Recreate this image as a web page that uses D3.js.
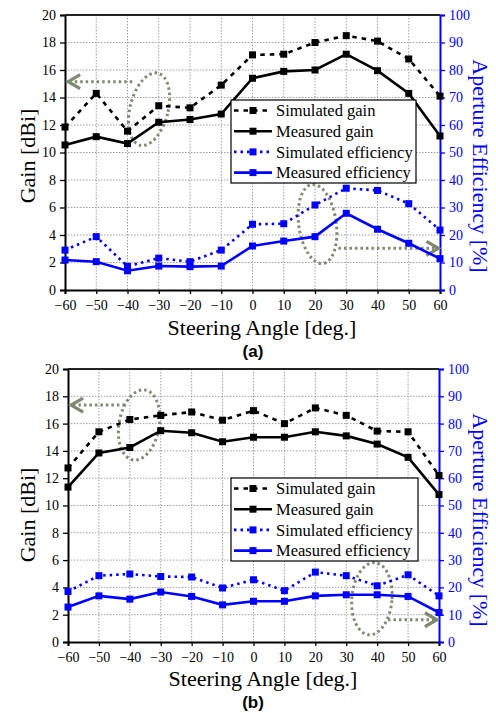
<!DOCTYPE html>
<html>
<head>
<meta charset="utf-8">
<script src="https://cdn.jsdelivr.net/npm/d3@7"></script>
<style>
  html, body { margin: 0; padding: 0; background: #fff; }
  svg { display: block; }
</style>
</head>
<body>
<script>
// Steering angles (deg.)
const angles = [-60, -50, -40, -30, -20, -10, 0, 10, 20, 30, 40, 50, 60];

// Panel (a): gain in dBi, efficiency in %
const simGainA = [11.85, 14.3, 11.55, 13.4, 13.25, 14.9, 17.1, 17.15, 18.0, 18.5, 18.1, 16.8, 14.1];
const measGainA = [10.55, 11.15, 10.65, 12.2, 12.4, 12.8, 15.4, 15.9, 16.0, 17.15, 15.95, 14.3, 11.2];
const simEffA = [14.5, 19.4, 8.6, 11.6, 10.3, 14.5, 23.9, 24.1, 30.9, 37.0, 36.2, 31.4, 21.8];
const measEffA = [10.9, 10.3, 7.0, 8.7, 8.5, 8.7, 16.0, 17.8, 19.4, 27.9, 22.1, 17.0, 11.4];

// Panel (b)
const simGainB = [12.75, 15.4, 16.3, 16.6, 16.85, 16.25, 16.95, 16.0, 17.15, 16.6, 15.45, 15.4, 12.2];
const measGainB = [11.35, 13.85, 14.25, 15.48, 15.33, 14.67, 15.0, 15.0, 15.4, 15.1, 14.5, 13.53, 10.8];
const simEffB = [18.5, 24.3, 24.9, 24.0, 23.8, 19.8, 22.8, 18.8, 25.6, 24.3, 20.6, 24.6, 16.9];
const measEffB = [12.8, 16.9, 15.7, 18.3, 16.7, 13.6, 14.9, 14.9, 16.9, 17.3, 17.3, 16.7, 10.8];

// Axis ticks
const angleTicks = [-60, -50, -40, -30, -20, -10, 0, 10, 20, 30, 40, 50, 60];
const gainTicks = [0, 2, 4, 6, 8, 10, 12, 14, 16, 18, 20];
const effTicks = [0, 10, 20, 30, 40, 50, 60, 70, 80, 90, 100];

// Legend entries
const legendLabels = ["Simulated gain", "Measured gain", "Simulated efficiency", "Measured efficiency"];
const panelTags = ["(a)", "(b)"];

const BLUE = "#0000ff";
const NOTE = "#7e8a6f";
const SERIF = "'Liberation Serif', 'Times New Roman', serif";

const svg = d3.select("body").append("svg")
  .attr("width", 496).attr("height", 713);

const seriesStyles = [
  { color: "#000", dash: "4.5,5" },
  { color: "#000", dash: null },
  { color: BLUE, dash: "2.5,4" },
  { color: BLUE, dash: null }
];

function drawPanel(cfg) {
  const { left, right, top, bottom } = cfg.box;
  const x = d3.scaleLinear().domain([-60, 60]).range([left, right]);
  const yG = d3.scaleLinear().domain([0, 20]).range([bottom, top]);
  const yE = d3.scaleLinear().domain([0, 100]).range([bottom, top]);
  const g = svg.append("g");

  // grid
  const grid = g.append("g").attr("stroke", "#a0a0a0").attr("stroke-width", 1)
    .attr("stroke-dasharray", "1.5,1.5");
  grid.selectAll("line.v").data(angleTicks.slice(1, -1)).join("line")
    .attr("x1", d => x(d)).attr("x2", d => x(d)).attr("y1", top).attr("y2", bottom);
  grid.selectAll("line.h").data(gainTicks.slice(1, -1)).join("line")
    .attr("x1", left).attr("x2", right).attr("y1", d => yG(d)).attr("y2", d => yG(d));

  // axes
  const axL = g.append("g").attr("transform", `translate(${left},0)`)
    .call(d3.axisLeft(yG).tickValues(gainTicks).tickSize(5).tickPadding(4));
  const axB = g.append("g").attr("transform", `translate(0,${bottom})`)
    .call(d3.axisBottom(x).tickValues(angleTicks).tickFormat(d3.format("d")).tickSize(4).tickPadding(6));
  const axR = g.append("g").attr("transform", `translate(${right},0)`)
    .call(d3.axisRight(yE).tickValues(effTicks).tickSize(5).tickPadding(4));
  [axL, axB, axR].forEach(a => {
    a.attr("font-family", null);
    a.selectAll("text").style("font-family", SERIF).attr("font-size", 14);
    a.select(".domain").attr("stroke-width", 2);
    a.selectAll(".tick line").attr("stroke-width", 1.3);
  });
  axL.selectAll("text").attr("fill", "#000");
  axB.selectAll("text").attr("fill", "#000");
  axR.selectAll("text").attr("fill", BLUE);
  axR.select(".domain").attr("stroke", BLUE);
  axR.selectAll(".tick line").attr("stroke", BLUE);
  g.append("line").attr("x1", left).attr("x2", right).attr("y1", top).attr("y2", top)
    .attr("stroke", "#222").attr("stroke-width", 2);

  // annotations (ellipses + arrows), defined in data units
  const ann = g.append("g").attr("fill", "none").attr("stroke", NOTE);
  cfg.notes.forEach(n => {
    const cx = x(n.cx), cy = yG(n.cy);
    const rx = x(n.cx + n.rx) - cx, ry = cy - yG(n.cy + n.ry);
    ann.append("ellipse").attr("cx", cx).attr("cy", cy).attr("rx", rx).attr("ry", ry)
      .attr("transform", `rotate(${n.rot},${cx},${cy})`)
      .attr("stroke-width", 3).attr("stroke-dasharray", "2.5,3");
    const ay = yG(n.ay), x0 = x(n.ax0), x1 = x(n.ax1);
    ann.append("line").attr("x1", x0).attr("x2", x1).attr("y1", ay).attr("y2", ay)
      .attr("stroke-width", 3).attr("stroke-dasharray", "2.5,3");
    const dir = x1 < x0 ? 1 : -1;
    ann.append("path")
      .attr("d", `M${x1 + dir * 12},${ay - 7}L${x1},${ay}L${x1 + dir * 12},${ay + 7}`)
      .attr("stroke-width", 3.2).attr("stroke-linejoin", "miter");
  });

  // series
  const series = [
    { vals: cfg.simGain, y: yG },
    { vals: cfg.measGain, y: yG },
    { vals: cfg.simEff, y: yE },
    { vals: cfg.measEff, y: yE }
  ];
  series.forEach((s, i) => {
    const st = seriesStyles[i];
    const pts = angles.map((a, j) => [x(a), s.y(s.vals[j])]);
    g.append("path").attr("d", d3.line()(pts)).attr("fill", "none")
      .attr("stroke", st.color).attr("stroke-width", 2.6)
      .attr("stroke-dasharray", st.dash);
    g.append("g").selectAll("rect").data(pts).join("rect")
      .attr("x", d => d[0] - 3.5).attr("y", d => d[1] - 3.5)
      .attr("width", 7).attr("height", 7).attr("fill", st.color);
  });

  // legend
  const L = cfg.legend;
  const lg = g.append("g").attr("transform", `translate(${L.x},${L.y})`);
  lg.append("rect").attr("width", L.w).attr("height", L.h)
    .attr("fill", "#fff").attr("stroke", "#000").attr("stroke-width", 1.2);
  legendLabels.forEach((lab, i) => {
    const st = seriesStyles[i];
    const ry = 10.5 + i * 20.7;
    lg.append("line").attr("x1", 3).attr("x2", 41).attr("y1", ry).attr("y2", ry)
      .attr("stroke", st.color).attr("stroke-width", 2.6).attr("stroke-dasharray", st.dash);
    lg.append("rect").attr("x", 18.5).attr("y", ry - 3.5).attr("width", 7).attr("height", 7)
      .attr("fill", st.color);
    lg.append("text").attr("x", 45).attr("y", ry).attr("dy", "0.35em")
      .style("font-family", SERIF).attr("font-size", 16.5).attr("fill", "#000").text(lab);
  });

  // titles
  g.append("text").attr("transform", `translate(${cfg.leftTitle[0]},${cfg.leftTitle[1]}) rotate(-90)`)
    .attr("text-anchor", "middle").attr("dy", "0.35em")
    .style("font-family", SERIF).attr("font-size", 22).attr("fill", "#000").text("Gain [dBi]");
  g.append("text").attr("transform", `translate(${cfg.rightTitle[0]},${cfg.rightTitle[1]}) rotate(90)`)
    .attr("text-anchor", "middle").attr("dy", "0.35em")
    .style("font-family", SERIF).attr("font-size", 22).attr("fill", BLUE).text("Aperture Efficiency [%]");
  g.append("text").attr("x", cfg.bottomTitle[0]).attr("y", cfg.bottomTitle[1])
    .attr("text-anchor", "middle")
    .style("font-family", SERIF).attr("font-size", 22).attr("fill", "#000").text("Steering Angle [deg.]");
  g.append("text").attr("x", cfg.tag[0]).attr("y", cfg.tag[1]).attr("text-anchor", "middle")
    .style("font-family", "'Liberation Sans', Arial, sans-serif").attr("font-weight", "bold")
    .attr("font-size", 17).attr("fill", "#000").text(cfg.tagText);
}

drawPanel({
  box: { left: 65, right: 440, top: 15, bottom: 290 },
  simGain: simGainA, measGain: measGainA, simEff: simEffA, measEff: measEffA,
  legend: { x: 231, y: 100, w: 185, h: 83 },
  notes: [
    { cx: -33.1, cy: 13.15, rx: 6.1, ry: 2.7, rot: 14, ay: 15.15, ax0: -38.5, ax1: -59.0 },
    { cx: 20.8, cy: 4.8, rx: 6.0, ry: 2.9, rot: -8, ay: 3.03, ax0: 27.5, ax1: 59.5 }
  ],
  leftTitle: [27, 156], rightTitle: [481, 166], bottomTitle: [262, 335],
  tag: [253, 357], tagText: panelTags[0]
});

drawPanel({
  box: { left: 68, right: 439, top: 369, bottom: 642 },
  simGain: simGainB, measGain: measGainB, simEff: simEffB, measEff: measEffB,
  legend: { x: 231, y: 478, w: 187, h: 83 },
  notes: [
    { cx: -37, cy: 15.9, rx: 6.5, ry: 2.6, rot: 10, ay: 17.36, ax0: -41.6, ax1: -59.0 },
    { cx: 38.3, cy: 3.17, rx: 6.5, ry: 2.65, rot: 5, ay: 1.63, ax0: 43.5, ax1: 59.3 }
  ],
  leftTitle: [27, 515], rightTitle: [481, 520], bottomTitle: [263, 686],
  tag: [253, 708], tagText: panelTags[1]
});
</script>
</body>
</html>
